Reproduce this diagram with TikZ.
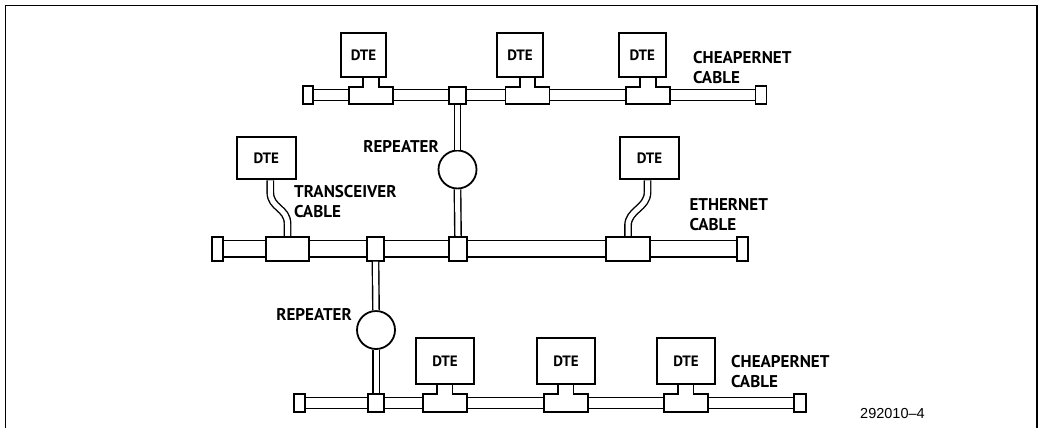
\documentclass[tikz,border=0pt]{standalone}
\usepackage{fontspec}
\setmainfont{PT Sans}
\newfontfamily\codefont{Liberation Sans}
\begin{document}
\begin{tikzpicture}[x=1pt,y=-1pt,
  frame/.style={line width=1.9pt},
  dtebox/.style={draw, line width=1.9pt, fill=white, inner sep=0pt, font=\bfseries\fontsize{15}{17}\selectfont},
  part/.style={draw, line width=1.8pt, fill=white, inner sep=0pt},
  tube/.style={line width=1.4pt},
  rep/.style={circle, draw, line width=1.8pt, fill=white, minimum size=38pt, inner sep=0pt},
  link/.style={double, double distance=5pt, line width=1.4pt},
  lbl/.style={font=\bfseries\fontsize{17}{20}\selectfont, align=left, anchor=west, inner sep=0pt},
  tee/.pic={\draw[line width=1.8pt, fill=white] (-22,8.75) -- (-22,-8.75) -- (-7.75,-8.75) -- (-7.75,-18.75) -- (7.75,-18.75) -- (7.75,-8.75) -- (22,-8.75) -- (22,8.75) -- cycle;
            \coordinate (-stem) at (0,-18.75);}
]
\useasboundingbox (0,0) rectangle (1040,428);
\draw[frame] (5.5,428) -- (5.5,5.5) -- (1037,5.5) -- (1037,428);

% ---------- top cheapernet ----------
\node[part, minimum width=10.6pt, minimum height=18pt] (tcl) at (308,95.2) {};
\node[part, minimum width=11pt, minimum height=18pt] (tcr) at (761,95.2) {};
\draw[tube] ([yshift=5.5pt]tcl.east) -- ([yshift=5.5pt]tcr.west);
\draw[tube] ([yshift=-5.5pt]tcl.east) -- ([yshift=-5.5pt]tcr.west);
\pic (tt1) at (371,95.5) {tee};
\pic (tt2) at (527.5,95.5) {tee};
\pic (tt3) at (648,95.5) {tee};
\node[part, minimum width=17pt, minimum height=17.5pt] (tsq) at (457.5,95.5) {};
\node[dtebox, minimum width=45.5pt, minimum height=44.6pt] (td1) at (363.5,55) {DTE};
\node[dtebox, minimum width=45.5pt, minimum height=44.6pt] (td2) at (520,55) {DTE};
\node[dtebox, minimum width=46.5pt, minimum height=44.6pt] (td3) at (642.3,55) {DTE};
\node[lbl] (ltc) at (693,67.5) {CHEAPERNET\\CABLE};

% ---------- ethernet ----------
\node[part, minimum width=11.6pt, minimum height=24pt] (ecl) at (217.5,248.7) {};
\node[part, minimum width=11pt, minimum height=24pt] (ecr) at (742.8,248.7) {};
\draw[tube] ([yshift=8.3pt]ecl.east) -- ([yshift=8.3pt]ecr.west);
\draw[tube] ([yshift=-8.3pt]ecl.east) -- ([yshift=-8.3pt]ecr.west);
\node[part, minimum width=43.6pt, minimum height=24pt] (ex1) at (287.5,248.7) {};
\node[part, minimum width=44pt, minimum height=24pt] (ex2) at (628,248.7) {};
\node[part, minimum width=17.6pt, minimum height=24pt] (esq1) at (375.5,248.7) {};
\node[part, minimum width=17.4pt, minimum height=24pt] (esq2) at (458,248.7) {};
\node[dtebox, minimum width=59.3pt, minimum height=42.6pt] (md1) at (266.3,158) {DTE};
\node[dtebox, minimum width=59pt, minimum height=42.6pt] (md2) at (649.5,158) {DTE};
\draw[link] ([xshift=4pt]md1.south) -- ++(0,12) .. controls +(0,16) and +(0,-16) .. ([yshift=12pt]ex1.north) -- (ex1.north);
\draw[link] ([xshift=-2pt]md2.south) -- ++(0,12) .. controls +(0,16) and +(0,-16) .. ([yshift=10pt]ex2.north) -- (ex2.north);
\node[lbl] (ltr) at (294,202) {TRANSCEIVER\\CABLE};
\node[lbl] (let) at (689.3,215) {ETHERNET\\CABLE};

% ---------- repeater top ----------
\node[rep] (r1) at (457.5,169.5) {};
\draw[link] (tsq.south) -- (r1.north);
\draw[link] (r1.south) -- (esq2.north);
\node[lbl, anchor=east] (lr1) at (439,146.7) {REPEATER};

% ---------- bottom cheapernet ----------
\node[part, minimum width=11pt, minimum height=17.5pt] (bcl) at (299.5,403) {};
\node[part, minimum width=11.7pt, minimum height=17.5pt] (bcr) at (800,403) {};
\draw[tube] ([yshift=5.5pt]bcl.east) -- ([yshift=5.5pt]bcr.west);
\draw[tube] ([yshift=-5.5pt]bcl.east) -- ([yshift=-5.5pt]bcr.west);
\pic (bt1) at (444.7,403) {tee};
\pic (bt2) at (565.8,403) {tee};
\pic (bt3) at (685.8,403) {tee};
\node[part, minimum width=16.6pt, minimum height=17.5pt] (bsq) at (376,403) {};
\node[dtebox, minimum width=58pt, minimum height=46pt] (bd1) at (445,361) {DTE};
\node[dtebox, minimum width=58pt, minimum height=46pt] (bd2) at (566,361) {DTE};
\node[dtebox, minimum width=58pt, minimum height=46pt] (bd3) at (686,361) {DTE};
\node[lbl] (lbc) at (731,372) {CHEAPERNET\\CABLE};

% ---------- repeater bottom ----------
\node[rep] (r2) at (376,330) {};
\draw[link] (esq1.south) -- (r2.north);
\draw[link] (r2.south) -- (bsq.north);
\node[lbl, anchor=east] (lr2) at (352,314) {REPEATER};

\node[anchor=west, inner sep=0pt, font=\codefont\fontsize{14.5}{16}\selectfont] (code) at (860,413.3) {292010–4};
\end{tikzpicture}
\end{document}
